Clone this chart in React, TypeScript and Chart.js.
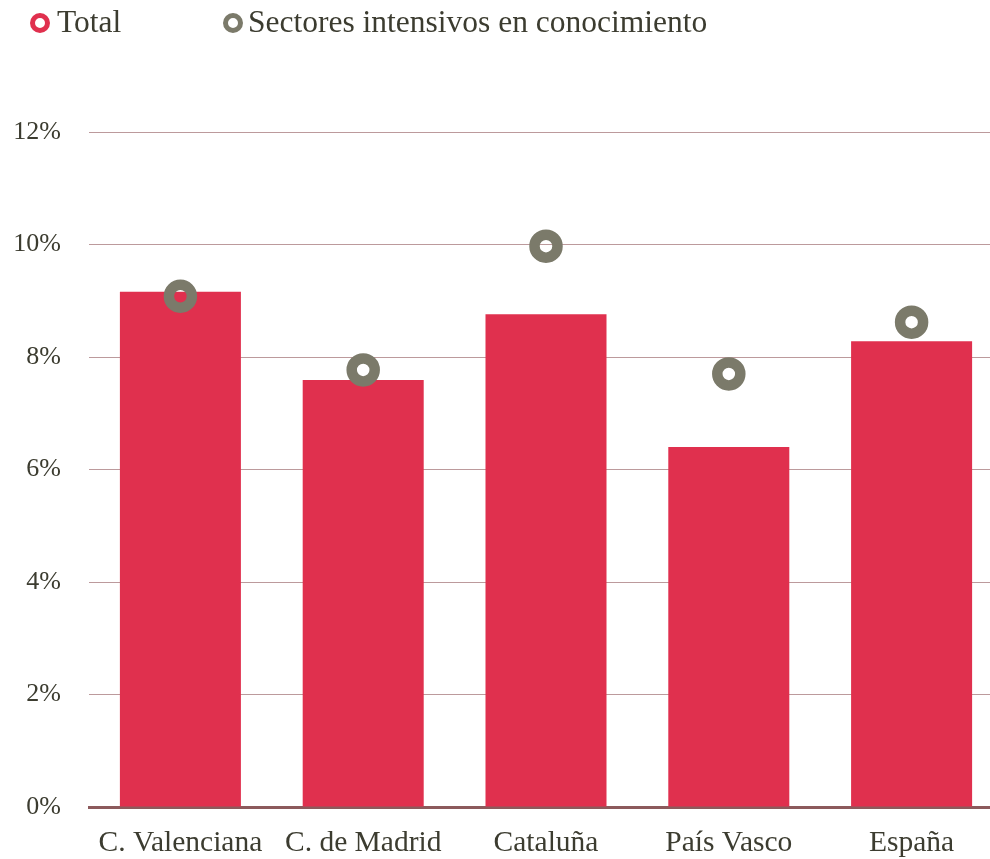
import React, { useEffect, useRef } from "react";
import { Chart, registerables } from "chart.js";

Chart.register(...registerables);

const categories = ["C. Valenciana", "C. de Madrid", "Cataluña", "País Vasco", "España"];
const totalValues = [9.16, 7.59, 8.76, 6.4, 8.28];
const intensivosValues = [9.08, 7.77, 9.97, 7.7, 8.62];
const seriesNames = ["Total", "Sectores intensivos en conocimiento"];
const yTicks = [0, 2, 4, 6, 8, 10, 12];

const RED = "#E0304E";
const GREY = "#7B7A6A";
const TEXT = "#3C3C30";
const FONT = "'Liberation Serif', 'Times New Roman', serif";

const legendPlugin = {
  id: "customLegend",
  afterDraw(chart: any) {
    const ctx = chart.ctx;
    const items = [
      { text: seriesNames[0], color: RED, cx: 40, tx: 57 },
      { text: seriesNames[1], color: GREY, cx: 233, tx: 248 },
    ];
    ctx.save();
    ctx.font = `31.5px ${FONT}`;
    ctx.textBaseline = "middle";
    items.forEach((it) => {
      ctx.beginPath();
      ctx.lineWidth = 5;
      ctx.strokeStyle = it.color;
      ctx.arc(it.cx, 23, 7.5, 0, Math.PI * 2);
      ctx.stroke();
      ctx.fillStyle = TEXT;
      ctx.fillText(it.text, it.tx, 24);
    });
    ctx.restore();
  },
};

export default function App() {
  const ref = useRef<HTMLCanvasElement>(null);
  useEffect(() => {
    if (!ref.current) return;
    const chart = new Chart(ref.current, {
      type: "bar",
      data: {
        labels: categories,
        datasets: [
          {
            type: "line",
            label: seriesNames[1],
            data: intensivosValues,
            showLine: false,
            pointRadius: 11.5,
            pointHoverRadius: 11.5,
            pointBorderWidth: 10.5,
            pointBackgroundColor: "rgba(0,0,0,0)",
            pointBorderColor: GREY,
            borderColor: GREY,
            clip: false,
            order: 0,
          } as any,
          {
            type: "bar",
            label: seriesNames[0],
            data: totalValues,
            backgroundColor: RED,
            borderWidth: 0,
            categoryPercentage: 1,
            barPercentage: 0.662,
            order: 1,
          },
        ],
      },
      options: {
        animation: false,
        responsive: false,
        layout: { autoPadding: false, padding: { top: 132, right: 0, bottom: 0, left: 0 } },
        plugins: { legend: { display: false }, tooltip: { enabled: false } },
        scales: {
          x: {
            grid: { display: false, drawTicks: false },
            border: { display: true, color: "#8C5A5C", width: 3 },
            ticks: { color: TEXT, font: { family: FONT, size: 29.5 }, padding: 19, maxRotation: 0, autoSkip: false },
            afterFit(scale: any) {
              scale.height = 52;
              scale.paddingLeft = 0;
              scale.paddingRight = 0;
            },
          },
          y: {
            min: 0,
            max: 12,
            afterBuildTicks(scale: any) {
              scale.ticks = yTicks.map((v) => ({ value: v }));
            },
            grid: { color: "#BC9A9C", lineWidth: 1, drawTicks: false },
            border: { display: false },
            ticks: {
              color: TEXT,
              font: { family: FONT, size: 26 },
              padding: 28,
              callback: (v: any) => `${v}%`,
            },
            afterFit(scale: any) {
              scale.width = 89;
            },
          },
        },
      },
      plugins: [legendPlugin],
    });
    return () => chart.destroy();
  }, []);
  return (
    <div style={{ position: "fixed", left: 0, top: 0, width: 990, height: 859, overflow: "hidden", background: "#fff" }}>
      <canvas ref={ref} width={1003} height={859} style={{ width: 1003, height: 859, display: "block" }} />
    </div>
  );
}
